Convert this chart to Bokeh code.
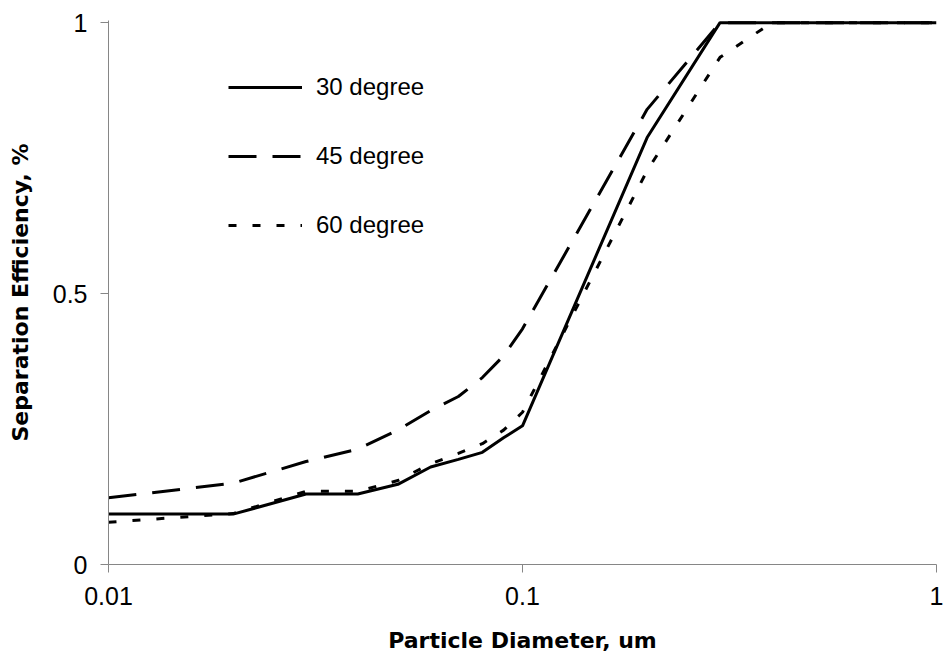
from bokeh.plotting import figure
from bokeh.models import Range1d, FixedTicker, Legend, LegendItem, CustomJSTickFormatter
from bokeh.embed import file_html
from bokeh.resources import INLINE

# Particle diameter (um) and separation efficiency for three inclination angles
diameters = [0.01, 0.02, 0.03, 0.04, 0.05, 0.06, 0.07, 0.08, 0.09, 0.1,
             0.2, 0.3, 0.4, 0.5, 0.6, 0.7, 0.8, 0.9, 1.0]
eff_30 = [0.093, 0.093, 0.130, 0.130, 0.148, 0.180, 0.194, 0.207, 0.234, 0.256,
          0.788, 1.0, 1.0, 1.0, 1.0, 1.0, 1.0, 1.0, 1.0]
eff_45 = [0.123, 0.150, 0.190, 0.213, 0.248, 0.284, 0.310, 0.345, 0.385, 0.435,
          0.840, 1.0, 1.0, 1.0, 1.0, 1.0, 1.0, 1.0, 1.0]
eff_60 = [0.078, 0.094, 0.135, 0.135, 0.155, 0.186, 0.205, 0.223, 0.248, 0.281,
          0.727, 0.936, 1.0, 1.0, 1.0, 1.0, 1.0, 1.0, 1.0]
series_labels = ["30 degree", "45 degree", "60 degree"]
x_ticks = [0.01, 0.1, 1]
y_ticks = [0, 0.5, 1]

p = figure(width=943, height=667, x_axis_type="log",
           x_range=Range1d(0.01, 1), y_range=Range1d(0, 1.004),
           output_backend="svg", toolbar_location=None,
           min_border_left=108, min_border_right=7,
           min_border_top=20, min_border_bottom=103)
p.outline_line_color = None
p.background_fill_color = "white"
p.border_fill_color = "white"
p.xgrid.grid_line_color = None
p.ygrid.grid_line_color = None

r30 = p.line(diameters, eff_30, line_color="black", line_width=3)
r45 = p.line(diameters, eff_45, line_color="black", line_width=3, line_dash="28 16")
r60 = p.line(diameters, eff_60, line_color="black", line_width=3, line_dash="8 16")

legend = Legend(items=[LegendItem(label=series_labels[0], renderers=[r30]),
                       LegendItem(label=series_labels[1], renderers=[r45]),
                       LegendItem(label=series_labels[2], renderers=[r60])],
                location=(120, 325))
legend.background_fill_alpha = 0
legend.border_line_color = None
legend.padding = 0
legend.margin = 0
legend.spacing = 41
legend.glyph_width = 74
legend.glyph_height = 24
legend.label_height = 24
legend.label_standoff = 14
legend.label_text_font = "Liberation Sans"
legend.label_text_font_size = "24px"
legend.label_text_color = "black"
p.add_layout(legend)

fmt = "return tick.toString();"
for ax, ticks, standoff, lstand in ((p.xaxis[0], x_ticks, 14, 20), (p.yaxis[0], y_ticks, 13, 17)):
    ax.ticker = FixedTicker(ticks=ticks, minor_ticks=[])
    ax.formatter = CustomJSTickFormatter(code=fmt)
    ax.axis_line_color = "#868686"
    ax.axis_line_width = 1
    ax.major_tick_line_color = "#868686"
    ax.major_tick_in = 0
    ax.major_tick_out = 8
    ax.minor_tick_line_color = None
    ax.major_label_text_font = "Liberation Sans"
    ax.major_label_text_font_size = "25px"
    ax.major_label_text_color = "black"
    ax.major_label_standoff = standoff
    ax.axis_label_text_font = "DejaVu Sans"
    ax.axis_label_text_font_style = "bold"
    ax.axis_label_text_font_size = "22px"
    ax.axis_label_text_color = "black"
    ax.axis_label_standoff = lstand

p.xaxis.axis_label = "Particle Diameter, um"
p.yaxis.axis_label = "Separation Efficiency, %"

open("out.html", "w").write(file_html(p, INLINE))
